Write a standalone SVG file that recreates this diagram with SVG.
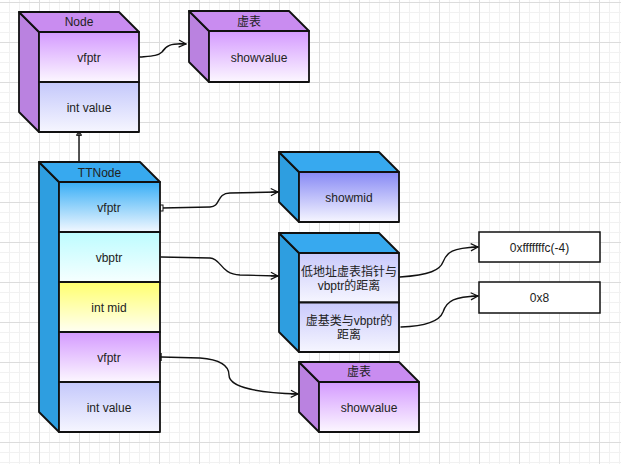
<svg xmlns="http://www.w3.org/2000/svg" width="621" height="464" viewBox="0 0 621 464">
<defs>
  <pattern id="grid" patternUnits="userSpaceOnUse" x="-1" y="2" width="40" height="40">
    <path d="M10.5 0V40M20.5 0V40M30.5 0V40M0 10.5H40M0 20.5H40M0 30.5H40" stroke="#f1f1f1" stroke-width="1" fill="none"/>
    <path d="M0.5 0V40M0 0.5H40" stroke="#dcdcdc" stroke-width="1" fill="none"/>
  </pattern>
  <linearGradient id="gPurple" x1="0" y1="0" x2="0" y2="1"><stop offset="0" stop-color="#d49aff"/><stop offset="1" stop-color="#fcf7ff"/></linearGradient>
  <linearGradient id="gLav" x1="0" y1="0" x2="0" y2="1"><stop offset="0" stop-color="#c4c8fb"/><stop offset="1" stop-color="#f6f6ff"/></linearGradient>
  <linearGradient id="gBlue" x1="0" y1="0" x2="0" y2="1"><stop offset="0" stop-color="#38aef6"/><stop offset="1" stop-color="#f2f8ff"/></linearGradient>
  <linearGradient id="gCyan" x1="0" y1="0" x2="0" y2="1"><stop offset="0" stop-color="#bdfcff"/><stop offset="1" stop-color="#f6ffff"/></linearGradient>
  <linearGradient id="gYellow" x1="0" y1="0" x2="0" y2="1"><stop offset="0" stop-color="#ffff6e"/><stop offset="1" stop-color="#fffff2"/></linearGradient>
  <linearGradient id="gIndigo" x1="0" y1="0" x2="0" y2="1"><stop offset="0" stop-color="#8789f5"/><stop offset="1" stop-color="#f6f6ff"/></linearGradient>
  <linearGradient id="gPale" x1="0" y1="0" x2="0" y2="1"><stop offset="0" stop-color="#c9c9fb"/><stop offset="1" stop-color="#f6f6ff"/></linearGradient>
  <marker id="arr" viewBox="0 0 10 10" refX="9" refY="5" markerWidth="9" markerHeight="9" markerUnits="userSpaceOnUse" orient="auto">
    <path d="M1 1L9 5L1 9M1 5H9" fill="none" stroke="#111" stroke-width="1.4" stroke-linejoin="round"/>
  </marker>
  <style>
    .ol{stroke:#111;stroke-width:1.8;stroke-linejoin:round;}
    .sidep{fill:#ba82e0;}
    .topp{fill:#c98cf0;}
    .sideb{fill:#2e9ee0;}
    .topb{fill:#37a9ef;}
    .t{font-family:"Liberation Sans","Noto Sans CJK SC",sans-serif;font-size:12px;fill:#222;text-anchor:middle;dominant-baseline:central;}
    .e{fill:none;stroke:#111;stroke-width:1.4;stroke-linecap:round;}
    .box{fill:#fff;stroke:#111;stroke-width:1.5;}
  </style>
</defs>
<rect width="621" height="464" fill="#fff"/>
<rect width="621" height="464" fill="url(#grid)"/>

<g id="connectors">
  <path class="e" d="M79 134V162"/>
  <path d="M76.5 135.5A2.5 2.5 0 0 1 81.5 135.5Z" fill="#555" stroke="#111" stroke-width="0.8"/>
  <path class="e" d="M140 57C152 56 158 56 162 52C166 46 170 43 186 44" marker-end="url(#arr)"/>
  <path class="e" d="M162 208L210 207C221 207 216 193 230 193L278 192" marker-end="url(#arr)"/>
  <rect x="160" y="205" width="3" height="6" fill="#fff" stroke="#111" stroke-width="1"/>
  <path class="e" d="M161 257L210 258C222 259 220 274 240 275L278 276" marker-end="url(#arr)"/>
  <path class="e" d="M161 357L200 358C225 360 229 368 229 375C229 388 262 393 298 394" marker-end="url(#arr)"/>
  <path d="M161 353V361" stroke="#111" stroke-width="1.4"/>
  <path class="e" d="M400 277C430 275 440 270 443 262C447 252 452 248 478 247" marker-end="url(#arr)"/>
  <path class="e" d="M401 327C430 326 440 320 443 312C447 300 455 297 478 296" marker-end="url(#arr)"/>
</g>

<g id="Node">
  <polygon class="sidep ol" points="19,12 39,32 39,132 19,112"/>
  <polygon class="topp ol" points="19,12 119,12 139,32 39,32"/>
  <rect class="ol" x="39" y="32" width="100" height="50" fill="url(#gPurple)"/>
  <rect class="ol" x="39" y="82" width="100" height="50" fill="url(#gLav)"/>
  <text class="t" x="79" y="22">Node</text>
  <text class="t" x="89" y="58">vfptr</text>
  <text class="t" x="89" y="108">int value</text>
</g>

<g id="VTable1">
  <polygon class="sidep ol" points="189,11 209,31 209,82 189,62"/>
  <polygon class="topp ol" points="189,11 289,11 309,31 209,31"/>
  <rect class="ol" x="209" y="31" width="100" height="51" fill="url(#gPurple)"/>
  <text class="t" x="249" y="22">虚表</text>
  <text class="t" x="259" y="58">showvalue</text>
</g>

<g id="TTNode">
  <polygon class="sideb ol" points="39,162 59,182 59,432 39,412"/>
  <polygon class="topb ol" points="39,162 140,162 160,182 59,182"/>
  <rect class="ol" x="59" y="182" width="101" height="50" fill="url(#gBlue)"/>
  <rect class="ol" x="59" y="232" width="101" height="50" fill="url(#gCyan)"/>
  <rect class="ol" x="59" y="282" width="101" height="50" fill="url(#gYellow)"/>
  <rect class="ol" x="59" y="332" width="101" height="50" fill="url(#gPurple)"/>
  <rect class="ol" x="59" y="382" width="101" height="50" fill="url(#gLav)"/>
  <text class="t" x="99.5" y="172.5">TTNode</text>
  <text class="t" x="109" y="208">vfptr</text>
  <text class="t" x="109" y="258">vbptr</text>
  <text class="t" x="109" y="308">int mid</text>
  <text class="t" x="109" y="358">vfptr</text>
  <text class="t" x="109" y="408">int value</text>
</g>

<g id="ShowMid">
  <polygon class="sideb ol" points="279,152 299,172 299,222 279,202"/>
  <polygon class="topb ol" points="279,152 379,152 399,172 299,172"/>
  <rect class="ol" x="299" y="172" width="100" height="50" fill="url(#gIndigo)"/>
  <text class="t" x="349" y="198">showmid</text>
</g>

<g id="VBTable">
  <polygon class="sideb ol" points="279,233 299,253 299,352 279,332"/>
  <polygon class="topb ol" points="279,233 379,233 399,253 299,253"/>
  <rect class="ol" x="299" y="253" width="100" height="49.5" fill="url(#gPale)"/>
  <rect class="ol" x="299" y="302.5" width="100" height="49.5" fill="url(#gPale)"/>
  <text class="t" x="349" y="272">低地址虚表指针与</text>
  <text class="t" x="349" y="286">vbptr的距离</text>
  <text class="t" x="349" y="321">虚基类与vbptr的</text>
  <text class="t" x="349" y="335">距离</text>
</g>

<g id="Val1">
  <rect class="box" x="479" y="232" width="121" height="30"/>
  <text class="t" x="539.5" y="247.5">0xfffffffc(-4)</text>
</g>

<g id="Val2">
  <rect class="box" x="479" y="282" width="121" height="31"/>
  <text class="t" x="539.5" y="297.5">0x8</text>
</g>

<g id="VTable2">
  <polygon class="sidep ol" points="299,362 319,382 319,432 299,412"/>
  <polygon class="topp ol" points="299,362 399,362 419,382 319,382"/>
  <rect class="ol" x="319" y="382" width="100" height="50" fill="url(#gPurple)"/>
  <text class="t" x="359" y="372">虚表</text>
  <text class="t" x="369" y="408">showvalue</text>
</g>
</svg>
